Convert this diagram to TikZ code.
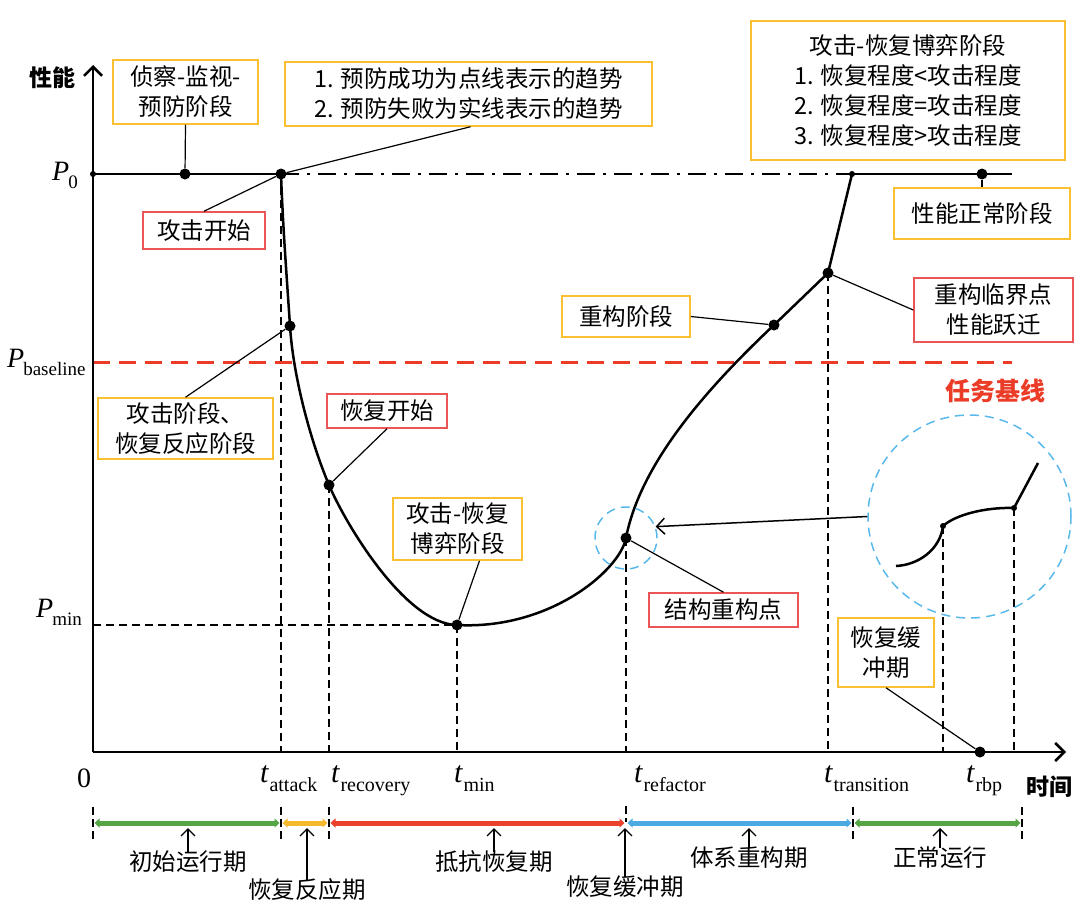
\documentclass[tikz,border=0pt]{standalone}
\usepackage{fontspec}
\setmainfont{Liberation Serif}
\newfontfamily\cjk{Noto Sans CJK SC}
\usetikzlibrary{arrows.meta,calc}
\definecolor{boxor}{RGB}{250,192,50}
\definecolor{boxred}{RGB}{235,85,85}
\definecolor{basered}{RGB}{235,60,40}
\definecolor{cblue}{RGB}{90,185,235}
\definecolor{tgreen}{RGB}{85,165,70}
\definecolor{torange}{RGB}{245,185,45}
\definecolor{tred}{RGB}{235,65,45}
\definecolor{tblue}{RGB}{75,170,225}
\newcommand\tlab[1]{{\fontsize{30}{30}\selectfont\itshape t}\kern1pt\raisebox{-9pt}{\fontsize{20}{20}\selectfont #1}}
\newcommand\plab[1]{{\fontsize{28}{28}\selectfont\itshape P}\kern-1pt\raisebox{-8pt}{\fontsize{19}{19}\selectfont #1}}
\begin{document}
\begin{tikzpicture}[x=1pt,y=-1pt,
  txt/.style={font=\cjk\fontsize{23.5}{30}\selectfont, align=center, inner sep=0pt},
  ybox/.style={txt, draw=boxor, line width=1.5pt},
  rbox/.style={txt, draw=boxred, line width=1.5pt},
  bdot/.style={circle, fill=black, inner sep=0pt, minimum size=11pt},
  sdot/.style={circle, fill=black, inner sep=0pt, minimum size=6pt},
  conn/.style={line width=1.2pt},
  axis/.style={line width=2.5pt, -{Straight Barb[length=9pt,width=18pt]}},
  curve/.style={line width=2.5pt, line join=round},
  dashdot/.style={line width=2.5pt, dash pattern=on 18pt off 8pt on 3pt off 8pt},
  basel/.style={line width=2.2pt, draw=basered, dash pattern=on 17pt off 9pt},
  vdash/.style={line width=1.5pt, dash pattern=on 8pt off 5pt},
  bcirc/.style={circle, draw=cblue, line width=1.5pt, dash pattern=on 9pt off 6pt, inner sep=0pt},
  carrow/.style={line width=1.5pt, -{Straight Barb[length=8pt,width=16pt]}},
  seg/.style={line width=5pt, {Triangle[length=5pt,width=9pt]}-{Triangle[length=5pt,width=9pt]}},
  tickm/.style={line width=1.5pt, dash pattern=on 8pt off 4pt},
  uparr/.style={line width=1.3pt, -{Straight Barb[length=7pt,width=14pt]}},
  axlab/.style={font=\cjk\bfseries\fontsize{23}{23}\selectfont, inner sep=0pt}
]
\useasboundingbox (0,0) rectangle (1080,910);

% key coordinates
\coordinate (o) at (93,752);
\coordinate (ytop) at (93,65);
\coordinate (xend) at (1066,752);
\coordinate (p0s) at (93,174);
\coordinate (p0e) at (1012,174);
\coordinate (bl0) at (93,362.5);
\coordinate (bl1) at (1012,362.5);
\coordinate (p1) at (185,174);
\coordinate (pA) at (281,174);
\coordinate (pB) at (290,326);
\coordinate (pR) at (329,485);
\coordinate (pM) at (457,625);
\coordinate (pF) at (626,538);
\coordinate (pG) at (774,325);
\coordinate (pT) at (828,273);
\coordinate (pP) at (852,174);
\coordinate (pN) at (982,174);
\coordinate (pS) at (980,752);
\coordinate (m0) at (896,566);
\coordinate (m1) at (943,526);
\coordinate (m2) at (1014,508);
\coordinate (m3) at (1038,463);

% dashed guides
\foreach \p in {pA,pR,pM,pF,pT,m1,m2} \draw[vdash] (\p) -- (\p |- o);
\draw[vdash] (o |- pM) -- (pM);
\draw[basel] (bl0) -- (bl1);
\draw[dashdot] (pA) -- (pP);

% performance curve
\draw[curve] (p0s) -- (pA);
\draw[curve] (pA) .. controls (283,230) and (287,280) .. (pB)
  .. controls (293,375) and (310,440) .. (pR)
  .. controls (345,523) and (405,624) .. (pM)
  .. controls (550,630) and (620,570) .. (pF)
  .. controls (640,465) and (704,391) .. (pG)
  -- (pT) -- (pP);
\draw[curve] (pP) -- (p0e);
% zoomed detail curve
\draw[curve] (m0) .. controls (918,565) and (940,550) .. (m1)
  .. controls (955,515) and (985,507) .. (m2) -- (m3);

% axes
\draw[axis] (o) -- (ytop);
\draw[axis] (o) -- (xend);

% circles
\node[bcirc, minimum size=203pt] (bigc) at (969.5,516.5) {};
\node[bcirc, minimum size=62pt] (smc) at (pF) {};
\draw[carrow] (bigc.west) -- (smc.21);

% dots
\node[sdot] (d0) at (p0s) {};
\node[bdot] (d1) at (p1) {};
\node[bdot] (dA) at (pA) {};
\node[bdot] (dB) at (pB) {};
\node[bdot] (dR) at (pR) {};
\node[bdot] (dM) at (pM) {};
\node[bdot] (dF) at (pF) {};
\node[bdot] (dG) at (pG) {};
\node[bdot] (dT) at (pT) {};
\node[sdot] (dP) at (pP) {};
\node[bdot] (dN) at (pN) {};
\node[bdot] (dS) at (pS) {};
\node[sdot] (dm1) at (m1) {};
\node[sdot] (dm2) at (m2) {};

% axis labels
\node[axlab] (ylab) at (52,78) {性能};
\node[axlab] (xlab) at (1049,787) {时间};
\node[anchor=base west, inner sep=0pt] (lp0) at (52,180) {\plab{0}};
\node[anchor=base west, inner sep=0pt] (lpb) at (7,367) {\plab{baseline}};
\node[anchor=base west, inner sep=0pt] (lpm) at (36,617) {\plab{min}};
\node[anchor=base, inner sep=0pt, font=\fontsize{28}{28}\selectfont] (l0) at (84,787) {0};
\node[anchor=base west, inner sep=0pt] (lta) at (260,782) {\tlab{attack}};
\node[anchor=base west, inner sep=0pt] (ltr) at (331,782) {\tlab{recovery}};
\node[anchor=base west, inner sep=0pt] (ltm) at (454,782) {\tlab{min}};
\node[anchor=base west, inner sep=0pt] (ltf) at (634,782) {\tlab{refactor}};
\node[anchor=base west, inner sep=0pt] (ltt) at (824,782) {\tlab{transition}};
\node[anchor=base west, inner sep=0pt] (ltb) at (966,782) {\tlab{rbp}};

% annotation boxes
\node[ybox, minimum width=145pt, minimum height=64pt] (b1) at (185.5,92) {侦察-监视-\\预防阶段};
\node[ybox, minimum width=367pt, minimum height=64pt] (b2) at (468.5,94) {1. 预防成功为点线表示的趋势\\2. 预防失败为实线表示的趋势};
\node[ybox, minimum width=314pt, minimum height=139pt] (b3) at (908,90.5) {攻击-恢复博弈阶段\\1. 恢复程度<攻击程度\\2. 恢复程度=攻击程度\\3. 恢复程度>攻击程度};
\node[rbox, minimum width=122pt, minimum height=37pt] (b4) at (204,230.5) {攻击开始};
\node[ybox, minimum width=176pt, minimum height=51pt] (b5) at (982,213.5) {性能正常阶段};
\node[rbox, minimum width=159pt, minimum height=64pt] (b6) at (993.5,310) {重构临界点\\性能跃迁};
\node[ybox, minimum width=128pt, minimum height=41pt] (b7) at (626,316.5) {重构阶段};
\node[ybox, minimum width=175pt, minimum height=61pt] (b8) at (185.5,428.5) {攻击阶段、\\恢复反应阶段};
\node[rbox, minimum width=120pt, minimum height=34pt] (b9) at (387,411) {恢复开始};
\node[ybox, minimum width=129pt, minimum height=62pt] (b10) at (457.5,529) {攻击-恢复\\博弈阶段};
\node[rbox, minimum width=149pt, minimum height=34pt] (b11) at (723.5,610) {结构重构点};
\node[ybox, minimum width=96pt, minimum height=69pt] (b12) at (886,652.5) {恢复缓\\冲期};
\node[txt, text=basered, font=\cjk\bfseries\fontsize{25}{25}\selectfont] (base) at (995,391) {任务基线};

% connectors
\draw[conn] (b1.south) -- (d1);
\draw[conn] (dA) -- ($(b2.south)+(2,0)$);
\draw[conn] (b4.north) -- (dA);
\draw[conn] (b5.north) -- (dN);
\draw[conn] (b6.west) -- (dT);
\draw[conn] (b7.east) -- (dG);
\draw[conn] (b8.north) -- (dB);
\draw[conn] (b9.south) -- (dR);
\draw[conn] ($(b10.south)+(22,0)$) -- (dM);
\draw[conn] (b11.north) -- (dF);
\draw[conn] (b12.south) -- (dS);

% timeline
\coordinate (k0) at (93,823);
\coordinate (k1) at (281,823);
\coordinate (k2) at (329,823);
\coordinate (k3) at (626,823);
\coordinate (k4) at (853,823);
\coordinate (k5) at (1022,823);
\coordinate (tl) at (0,828);
\draw[seg, tgreen] ([xshift=1.5pt]k0) -- ([xshift=-1.5pt]k1);
\draw[seg, torange] ([xshift=1.5pt]k1) -- ([xshift=-1.5pt]k2);
\draw[seg, tred] ([xshift=1.5pt]k2) -- ([xshift=-1.5pt]k3);
\draw[seg, tblue] ([xshift=1.5pt]k3) -- ([xshift=-1.5pt]k4);
\draw[seg, tgreen] ([xshift=1.5pt]k4) -- ([xshift=-1.5pt]k5);
\foreach \k in {k0,k1,k2,k4,k5} \draw[tickm] ([yshift=16pt]\k) -- ([yshift=-17pt]\k);
\draw[tickm] ([yshift=17pt]k3) -- ([yshift=1pt]k3);

\node[txt] (t1) at (188,862) {初始运行期};
\node[txt] (t2) at (307,890) {恢复反应期};
\node[txt] (t3) at (494,862) {抵抗恢复期};
\node[txt] (t4) at (625,887) {恢复缓冲期};
\node[txt] (t5) at (749,858) {体系重构期};
\node[txt] (t6) at (940,858) {正常运行};
\draw[uparr] ([yshift=-1pt]t1.north) -- (t1.north |- tl);
\draw[uparr] ([yshift=-1pt]t2.north) -- (t2.north |- tl);
\draw[uparr] ([yshift=-1pt]t3.north) -- (t3.north |- tl);
\draw[uparr] ([yshift=-1pt]t4.north) -- (t4.north |- tl);
\draw[uparr] ([yshift=-1pt]t5.north) -- (t5.north |- tl);
\draw[uparr] ([yshift=-1pt]t6.north) -- (t6.north |- tl);
\end{tikzpicture}
\end{document}
